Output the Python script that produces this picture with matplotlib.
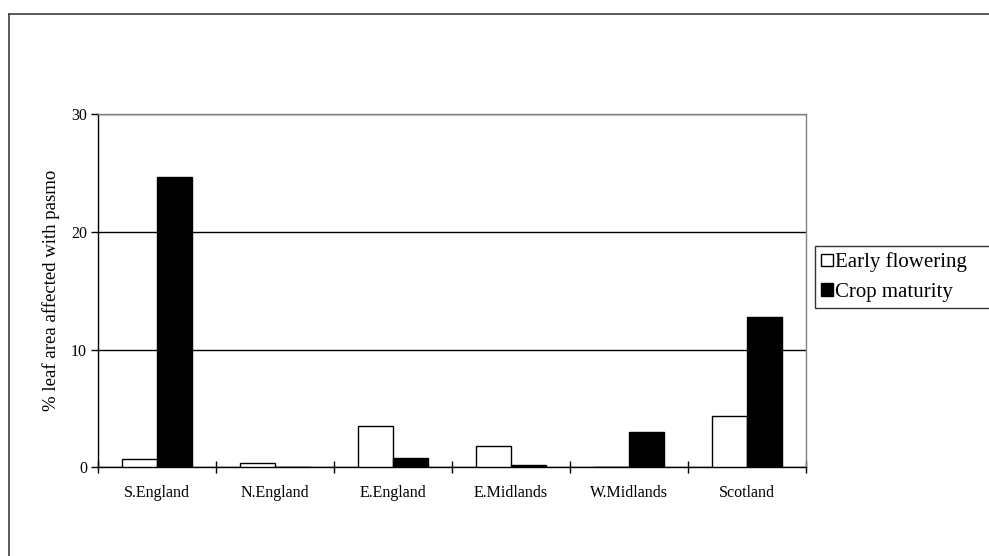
import matplotlib
matplotlib.use("Agg")
import matplotlib.pyplot as plt
from matplotlib.lines import Line2D
from matplotlib.patches import Patch
import numpy as np

regions = ["S.England", "N.England", "E.England", "E.Midlands", "W.Midlands", "Scotland"]
early_flowering = [0.7, 0.35, 3.5, 1.8, 0.0, 4.3]
crop_maturity = [24.7, 0.0, 0.75, 0.15, 3.0, 12.8]
series_names = ["Early flowering", "Crop maturity"]
y_ticks = [0, 10, 20, 30]

plt.rcParams['font.family'] = ['Liberation Serif', 'DejaVu Serif']

W, H = 989, 556
fig = plt.figure(figsize=(W / 100, H / 100), dpi=100)
ax = fig.add_axes([98 / W, 1 - 467 / H, (806 - 98) / W, (467 - 114.5) / H])

x = np.arange(len(regions))
bw = 0.3
ax.bar(x - bw / 2, early_flowering, bw, color='white', edgecolor='black', linewidth=1.0, zorder=3)
ax.bar(x + bw / 2, crop_maturity, bw, color='black', edgecolor='black', linewidth=1.0, zorder=3)

ax.set_xlim(-0.5, len(regions) - 0.5)
ax.set_ylim(0, 30)
ax.set_yticks(y_ticks)
ax.yaxis.grid(True, color='black', linewidth=1.0, zorder=0)
ax.set_axisbelow(True)

ax.set_xticks(x)
ax.set_xticklabels(regions, fontsize=11.5)
ax.tick_params(axis='x', which='major', length=0, pad=13)
ax.set_xticks(np.arange(-0.5, len(regions), 1.0), minor=True)
ax.tick_params(axis='x', which='minor', direction='inout', length=8, width=1, color='black')
ax.tick_params(axis='y', direction='out', length=5, width=1, labelsize=11.5, pad=3)

for s in ['top', 'right']:
    ax.spines[s].set_color('#808080')
    ax.spines[s].set_linewidth(1.0)
for s in ['left', 'bottom']:
    ax.spines[s].set_color('black')
    ax.spines[s].set_linewidth(1.0)

ax.set_ylabel("% leaf area affected with pasmo", fontsize=13.5, labelpad=8)

handles = [Patch(facecolor='white', edgecolor='black', linewidth=1.0),
           Patch(facecolor='black', edgecolor='black', linewidth=1.0)]
leg = fig.legend(handles, series_names, loc='lower left', mode='expand',
                 bbox_to_anchor=(815 / W, 1 - 308 / H, (1005 - 815) / W, (308 - 242) / H),
                 fontsize=15,
                 frameon=True, fancybox=False, edgecolor='black',
                 handlelength=0.55, handleheight=0.55, handletextpad=0.1,
                 borderpad=0.3, labelspacing=0.5, borderaxespad=0)
leg.get_frame().set_linewidth(1.0)

# chart area frame (left and top edges visible)
fig.add_artist(Line2D([8.5 / W, 8.5 / W], [0, 1 - 14 / H], color='#404040', linewidth=1.2, transform=fig.transFigure))
fig.add_artist(Line2D([8.5 / W, 1.0], [1 - 14 / H, 1 - 14 / H], color='#404040', linewidth=1.2, transform=fig.transFigure))

fig.savefig("out.png", dpi=100)
